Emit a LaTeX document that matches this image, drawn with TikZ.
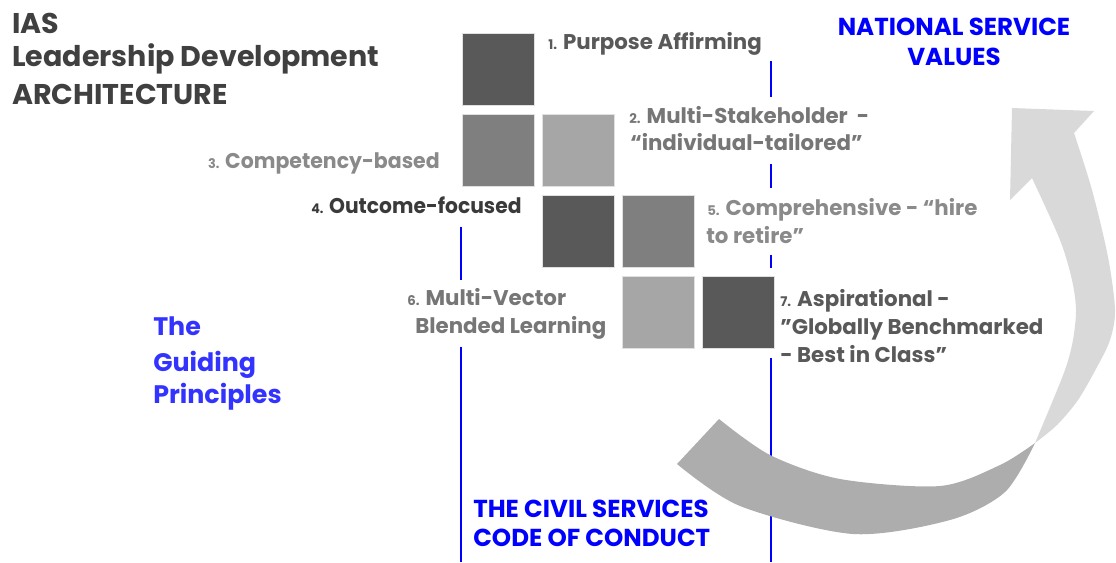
\documentclass[tikz,border=0pt]{standalone}
\usepackage{graphicx}
\usepackage{fontspec}
\setmainfont{Poppins}
\definecolor{ttlc}{HTML}{404040}
\definecolor{cA}{HTML}{595959}
\definecolor{cB}{HTML}{767676}
\definecolor{cC}{HTML}{8A8A8A}
\definecolor{cD}{HTML}{3A3A3A}
\definecolor{sqA}{HTML}{595959}
\definecolor{sqB}{HTML}{7F7F7F}
\definecolor{sqC}{HTML}{A6A6A6}
\definecolor{sqedge}{HTML}{E0E0E0}
\definecolor{blueA}{HTML}{0000FF}
\definecolor{blueB}{HTML}{3333FF}
\definecolor{arrDark}{HTML}{ADADAD}
\definecolor{arrLight}{HTML}{D9D9D9}
\newcommand\lnum[1]{{\fontsize{10}{10}\selectfont #1}}
\begin{document}
\begin{tikzpicture}[x=0.75pt,y=-0.75pt,
  ttl/.style={inner sep=0pt, anchor=base west, text=ttlc, font=\bfseries\fontsize{21.4}{21.4}\selectfont},
  lbl/.style={inner sep=0pt, anchor=base west, font=\bfseries\fontsize{16}{16}\selectfont},
  blu/.style={inner sep=0pt, anchor=base west, text=blueA, font=\bfseries\fontsize{18.4}{18.4}\selectfont},
  gp/.style={inner sep=0pt, anchor=base west, text=blueB, font=\bfseries\fontsize{19}{19}\selectfont},
  sq/.style={minimum size=54pt, inner sep=0pt, draw=sqedge, line width=0.6pt, anchor=north west},
  vline/.style={draw=blueA, line width=1.5pt}]
\useasboundingbox (0,0) rectangle (1116,562);

% vertical blue lines
\coordinate (la1) at (461,227); \coordinate (lb1) at (461,280);
\coordinate (la2) at (461,347); \coordinate (lb2) at (461,562);
\coordinate (ra1) at (771,61);  \coordinate (rb1) at (771,97);
\coordinate (ra2) at (771,164); \coordinate (rb2) at (771,188);
\coordinate (ra3) at (771,255); \coordinate (rb3) at (771,268);
\coordinate (ra4) at (771,358); \coordinate (rb4) at (771,562);
\draw[vline] (la1) -- (lb1);
\draw[vline] (la2) -- (lb2);
\draw[vline] (ra1) -- (rb1);
\draw[vline] (ra2) -- (rb2);
\draw[vline] (ra3) -- (rb3);
\draw[vline] (ra4) -- (rb4);

% curved arrow
\fill[arrDark] plot[smooth] coordinates {(719,419) (770,455) (840,479) (940,486) (1000,465) (1035,443)}
  -- plot[smooth] coordinates {(1035,443) (1005,492) (950,520) (853,534) (740,506) (677,464)} -- cycle;
\fill[arrLight] plot[smooth] coordinates {(1035,443) (1057,425) (1078,400) (1097,367) (1110,340) (1115,310) (1108,257) (1092,190) (1074,133)}
  -- (1094,111) -- (1012,108) -- (1010,200) -- (1032,178)
  -- plot[smooth] coordinates {(1032,178) (1060,240) (1072,280) (1076,310) (1073,340) (1066,367) (1053,400) (1035,443)} -- cycle;

% squares
\node[sq, fill=sqA] (s1) at (462,33) {};
\node[sq, fill=sqB] (s2) at (462,114) {};
\node[sq, fill=sqC] (s3) at (542,114) {};
\node[sq, fill=sqA] (s4) at (542,195) {};
\node[sq, fill=sqB] (s5) at (622,195) {};
\node[sq, fill=sqC] (s6) at (622,276) {};
\node[sq, fill=sqA] (s7) at (702,276) {};

% title
\node[ttl] (t1) at (12,33) {IAS};
\node[ttl] (t2) at (12,66) {Leadership Development};
\node[ttl] (t3) at (12,104) {ARCHITECTURE};

% principles
\node[lbl, text=cA] (p1) at (548,49) {\lnum{1.} Purpose Affirming};
\node[lbl, text=cB] (p2a) at (629,123) {\lnum{2.} Multi-Stakeholder\ \ -};
\node[lbl, text=cB] (p2b) at (630,150) {“individual-tailored”};
\node[lbl, text=cC, anchor=base east] (p3) at (440,168) {\scalebox{0.96}[1]{\lnum{3.} Competency-based}};
\node[lbl, text=cD] (p4) at (311,213) {\scalebox{0.95}[1]{\lnum{4.} Outcome-focused}};
\node[lbl, text=cC] (p5a) at (707,215) {\lnum{5.} Comprehensive - “hire};
\node[lbl, text=cC] (p5b) at (706,243) {to retire”};
\node[lbl, text=cB] (p6a) at (407,305) {\lnum{6.} Multi-Vector};
\node[lbl, text=cB] (p6b) at (415,333) {Blended Learning};
\node[lbl, text=cA] (p7a) at (780,306) {\lnum{7.} Aspirational -};
\node[lbl, text=cA] (p7b) at (780,334) {”Globally Benchmarked};
\node[lbl, text=cA] (p7c) at (780,362) {- Best in Class”};

% blue headings
\node[blu, anchor=base] (n1) at (954,35) {NATIONAL SERVICE};
\node[blu, anchor=base] (n2) at (954,65) {VALUES};
\node[gp] (g1) at (153,335) {The};
\node[gp] (g2) at (153,371) {Guiding};
\node[gp] (g3) at (153,403) {Principles};
\node[blu] (c1) at (473,517) {THE CIVIL SERVICES};
\node[blu] (c2) at (473,546) {CODE OF CONDUCT};
\end{tikzpicture}
\end{document}
